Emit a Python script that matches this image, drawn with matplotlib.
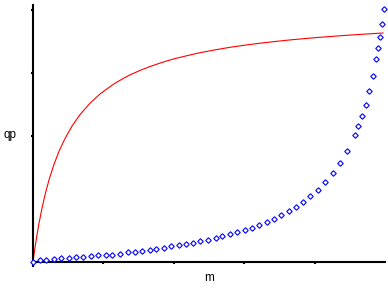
import matplotlib
matplotlib.use("Agg")
import matplotlib.pyplot as plt

# Red saturating curve
curve_m = [0.0, 0.028, 0.057, 0.085, 0.128, 0.170, 0.227, 0.298, 0.369, 0.455,
           0.554, 0.668, 0.810, 0.952, 1.065, 1.165, 1.278, 1.378, 1.520, 1.662,
           1.847, 2.017, 2.200, 2.372, 2.585, 2.798, 3.011, 3.224, 3.438, 3.651,
           3.864, 4.077, 4.290, 4.503, 4.737, 4.972]
curve_qp = [0.0, 0.229, 0.432, 0.613, 0.854, 1.062, 1.302, 1.549, 1.756, 1.960,
            2.157, 2.340, 2.521, 2.667, 2.760, 2.838, 2.911, 2.970, 3.041, 3.103,
            3.173, 3.229, 3.278, 3.322, 3.367, 3.408, 3.442, 3.473, 3.500, 3.525,
            3.547, 3.567, 3.585, 3.602, 3.619, 3.635]

# Diamond markers
pts_m = [0.0, 0.104, 0.189, 0.302, 0.402, 0.516, 0.615, 0.714, 0.828, 0.928,
         1.041, 1.126, 1.240, 1.354, 1.449, 1.553, 1.666, 1.751, 1.865, 1.964,
         2.078, 2.178, 2.277, 2.376, 2.490, 2.604, 2.689, 2.803, 2.902, 3.016,
         3.115, 3.214, 3.328, 3.428, 3.527, 3.641, 3.740, 3.839, 3.939, 4.053,
         4.152, 4.266, 4.365, 4.464, 4.578, 4.621, 4.678, 4.734, 4.777, 4.834,
         4.876, 4.905, 4.933, 4.962, 4.990]
pts_qp = [0.0, 0.027, 0.027, 0.043, 0.059, 0.068, 0.075, 0.075, 0.100, 0.111,
          0.116, 0.116, 0.132, 0.155, 0.163, 0.170, 0.186, 0.202, 0.217, 0.249,
          0.265, 0.286, 0.297, 0.329, 0.344, 0.376, 0.408, 0.440, 0.471, 0.503,
          0.535, 0.583, 0.630, 0.678, 0.741, 0.805, 0.868, 0.948, 1.043, 1.138,
          1.265, 1.408, 1.567, 1.757, 2.011, 2.154, 2.313, 2.487, 2.710, 2.948,
          3.217, 3.392, 3.567, 3.773, 4.011]

x_ticks = [1, 2, 3, 4]
y_ticks = [2, 3, 4]

W, H = 388, 288
fig = plt.figure(figsize=(W / 100, H / 100), dpi=100)
ax = fig.add_axes([33 / W, (H - 262) / H, (385 - 33) / W, (262 - 5) / H])

ax.plot(curve_m, curve_qp, color="#FF0000", lw=0.8, zorder=2)
ax.plot(pts_m, pts_qp, ls="none", marker="D", ms=2.8, mfc="white",
        mec="#0000FF", mew=0.8, zorder=3, clip_on=False)

ax.set_xlim(0, 5)
ax.set_ylim(0, 257 / 63)
ax.set_xticks(x_ticks)
ax.set_yticks(y_ticks)
ax.set_xticklabels([])
ax.set_yticklabels([])
ax.tick_params(direction="out", length=1.5, width=1.5, color="black")

for s in ["top", "right"]:
    ax.spines[s].set_visible(False)
for s in ["left", "bottom"]:
    ax.spines[s].set_linewidth(1.5)
ax.spines["left"].set_bounds(-0.06, 257 / 63)

fnt = dict(family=["Liberation Sans", "DejaVu Sans"], size=8.5)
ax.set_xlabel("m", **fnt)
ax.xaxis.set_label_coords(0.5, -0.062)
ax.xaxis.label.set_va("center")
ax.set_ylabel("qp", rotation=0, **fnt)
ax.yaxis.set_label_coords(-30 / 352, 0.494)
ax.yaxis.label.set_ha("left")
ax.yaxis.label.set_va("center")

fig.savefig("out.png", dpi=100)
